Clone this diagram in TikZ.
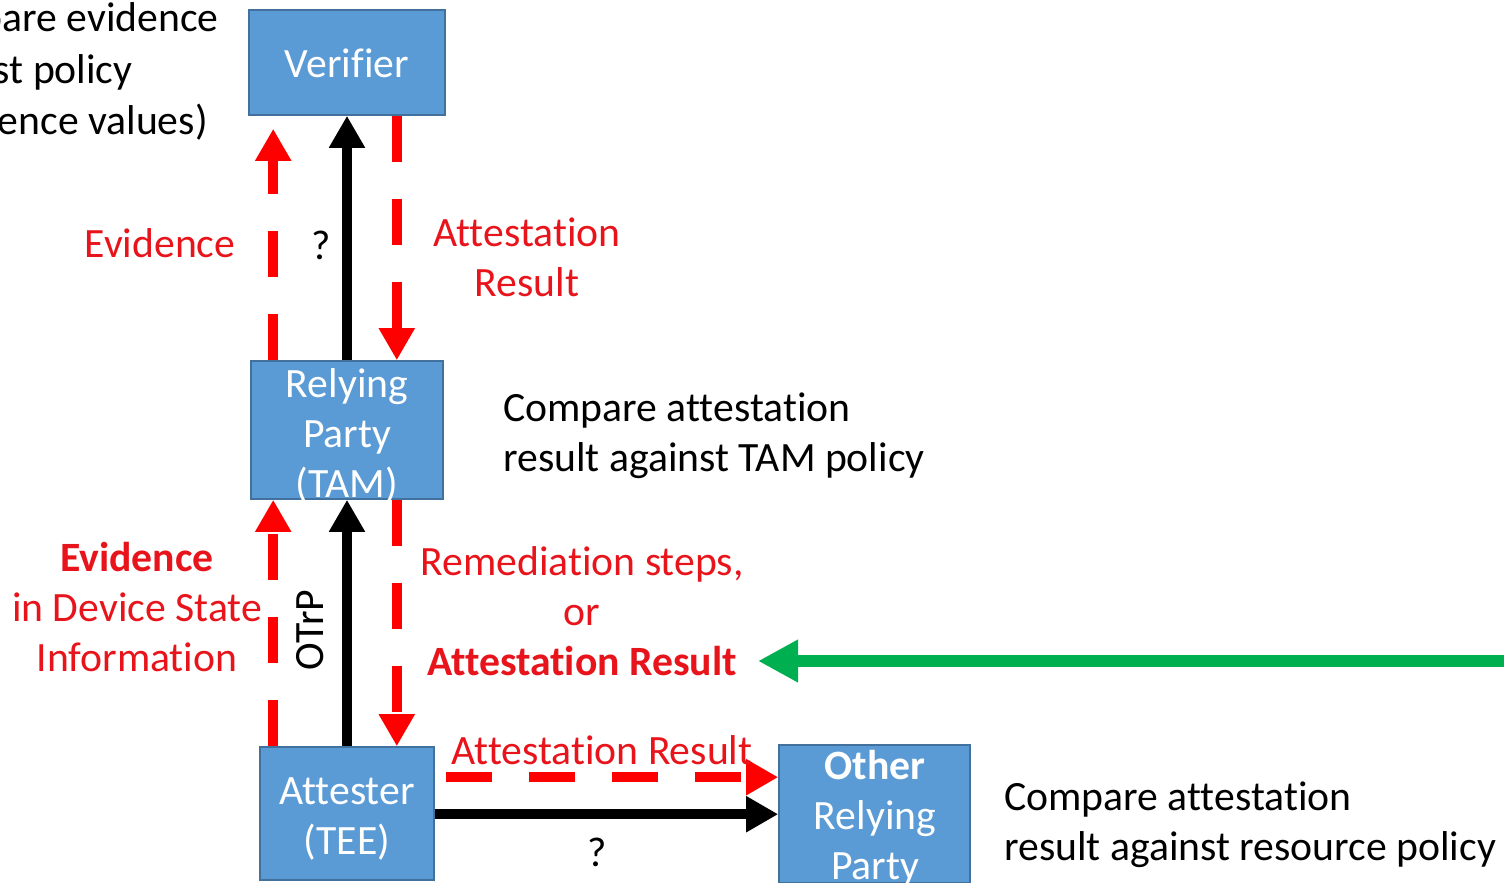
\documentclass[tikz,border=0pt]{standalone}
\usepackage{fontspec}
\setmainfont{Carlito}[Ligatures=CommonOff]
\usetikzlibrary{arrows.meta,calc}
\definecolor{boxblue}{HTML}{5B9BD5}
\definecolor{boxedge}{HTML}{41719C}
\definecolor{myred}{HTML}{FF0000}
\definecolor{txtred}{HTML}{E8141B}
\definecolor{mygreen}{HTML}{00B050}
\tikzset{
  box/.style={draw=boxedge, line width=0.8pt, fill=boxblue, inner sep=0pt},
  boxtext/.style={text=white, align=center, font=\fontsize{20.85}{25}\selectfont, inner sep=0pt},
  lbl/.style={inner sep=0pt, font=\fontsize{20.85}{25}\selectfont},
  redlbl/.style={lbl, text=txtred, align=center},
  blklbl/.style={lbl, text=black},
  redarrow/.style={draw=myred, line width=5pt, dash pattern=on 23pt off 18.5pt,
     -{Triangle[width=17pt,length=16pt]}},
  blkarrow/.style={draw=black, line width=5pt, -{Triangle[width=17pt,length=16pt]}},
  grnarrow/.style={draw=mygreen, line width=6pt, -{Triangle[width=20pt,length=20pt]}}
}
\begin{document}
\begin{tikzpicture}[x=0.5pt,y=-0.5pt]
\useasboundingbox (0,0) rectangle (1504,883);
% boxes
\node[box, minimum width=98pt, minimum height=52.5pt] (ver) at (347,62.5) {};
\node[box, minimum width=96pt, minimum height=69pt] (rp) at (347,430) {};
\node[box, minimum width=87pt, minimum height=66.5pt] (att) at (347,813.5) {};
\node[box, minimum width=95.5pt, minimum height=69pt] (orp) at (874.5,814) {};
% box texts
\node[boxtext, anchor=base] (vert) at (347,78) {Verifier};
\node[boxtext, anchor=base] (rpt) at (347,497) {Relying\\Party\\(TAM)};
\node[boxtext, anchor=base] (attt) at (347,854) {Attester\\(TEE)};
\node[boxtext, anchor=base] (orpt) at (875,879) {\textbf{Other}\\Relying\\Party};
% upper connectors
\coordinate (u1) at ([xshift=11.5pt]rp.north west);
\coordinate (u2) at (rp.north);
\coordinate (u3) at ([xshift=-23.5pt]rp.north east);
\draw[redarrow, shorten >=6.5pt] (u1) -- (u1 |- ver.south);
\draw[blkarrow] (u2) -- (u2 |- ver.south);
\draw[redarrow] (u3 |- ver.south) -- (u3);
% lower connectors
\coordinate (l1) at (u1 |- att.north);
\coordinate (l2) at (att.north);
\coordinate (l3) at (u3 |- att.north);
\draw[redarrow] (l1) -- (l1 |- rp.south);
\draw[blkarrow] (l2) -- (l2 |- rp.south);
\draw[redarrow] (l3 |- rp.south) -- (l3);
% horizontal connectors
\coordinate (h1) at ([yshift=-15.5pt]att.north east);
\draw[redarrow] ([xshift=5.5pt]h1) -- (h1 -| orp.west);
\coordinate (h2) at ([yshift=-34pt]att.north east);
\draw[blkarrow] (h2) -- (h2 -| orp.west);
% green arrow
\coordinate (gs) at (1504,661);
\coordinate (ge) at (758,661);
\draw[grnarrow] (gs) -- (ge);
% labels
\node[blklbl, anchor=base east] (c1) at (219,32) {Compare evidence};
\node[blklbl, anchor=base east] (c2) at (133,84) {against policy};
\node[blklbl, anchor=base east] (c3) at (208,134) {(reference values)};
\node[redlbl, anchor=base] (ev1) at (160,257) {Evidence};
\node[blklbl, anchor=base] (q1) at (321,259) {?};
\node[redlbl, anchor=base] (ar1) at (527,296) {Attestation\\Result};
\node[blklbl, anchor=base west, align=left] (cmp1) at (503,471) {Compare attestation\\result against TAM policy};
\node[redlbl, anchor=base] (ev2) at (137,671) {\textbf{Evidence}\\in Device State\\Information};
\node[blklbl, rotate=90] (otrp) at (310,630) {OTrP};
\node[redlbl, anchor=base] (rem) at (582,675) {Remediation steps,\\or\\\textbf{Attestation Result}};
\node[redlbl, anchor=base] (ar2) at (602,764) {Attestation Result};
\node[blklbl, anchor=base] (q2) at (597,866) {?};
\node[blklbl, anchor=base west, align=left] (cmp2) at (1004,860) {Compare attestation\\result against resource policy};
\end{tikzpicture}
\end{document}
